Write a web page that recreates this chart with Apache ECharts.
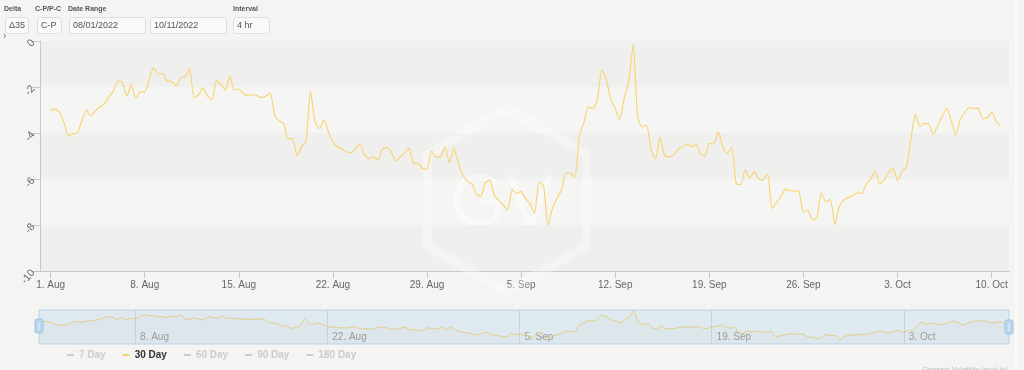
<!DOCTYPE html>
<html><head><meta charset="utf-8">
<script src="https://cdn.jsdelivr.net/npm/echarts@6/dist/echarts.min.js"></script>
<style>html,body{margin:0;padding:0;background:#f4f4f2;}#c{width:1024px;height:370px;}</style>
</head><body><div id="c"></div>
<script>
// ---- data (30 Day, C-P, delta 35), one value every 8 hours from 1 Aug 2022 00:00 UTC
const startDate = '2022-08-01T00:00:00Z';
const stepHours = 8;
const augVals = [-3.03,-2.95,-3.12,-3.56,-4.13,-4.02,-3.99,-3.44,-3.01,-3.27,-3.03,-2.86,-2.72,-2.43,-2.17,-1.73,-1.79,-2.40,-1.92,-2.50,
 -2.21,-2.21,-1.67,-1.15,-1.44,-1.41,-1.76,-1.75,-1.96,-1.59,-1.56,-1.20,-2.46,-2.35,-2.04,-2.40,-2.54,-1.73,-1.89,-2.14,
 -1.53,-2.14,-2.09,-2.28,-2.37,-2.34,-2.37,-2.46,-2.40,-2.25,-3.22,-3.47,-3.59,-4.25,-4.24,-5.00,-4.60,-4.34,-2.20,-3.50,
 -3.80,-3.44,-3.95,-4.38,-4.60,-4.70,-4.82,-4.86,-4.71,-4.48,-4.93,-5.12,-5.03,-5.18,-4.71,-4.63,-4.82,-5.21,-5.06,-4.86,
 -4.67,-5.32,-5.32,-5.54,-5.57,-4.77,-5.06,-5.03,-4.60,-5.29,-4.67,-5.32,-5.84];
const sepVals = [-6.09,-6.22,-6.64,-6.77,-6.16,-6.05,-6.70,-6.92,-7.13,-7.35,-6.45,-6.63,-6.55,-6.84,-7.09,-7.49,-6.12,-6.30,-8.00,-7.28,
 -6.84,-6.48,-5.73,-5.76,-5.92,-4.09,-3.56,-2.86,-2.93,-2.57,-1.24,-1.67,-2.54,-2.93,-3.41,-2.50,-1.79,-0.14,-3.30,-3.73,
 -3.66,-4.74,-5.11,-4.19,-4.98,-5.03,-4.96,-4.70,-4.60,-4.48,-4.60,-4.48,-4.89,-5.03,-4.45,-4.48,-3.95,-4.60,-4.89,-4.63,
 -6.19,-6.24,-5.61,-5.95,-5.68,-5.99,-6.05,-5.76,-7.28,-7.02,-6.77,-6.44,-6.51,-6.52,-6.55,-7.44,-7.35,-7.79,-7.67,-6.60,
 -6.99,-6.89,-7.97,-7.21,-6.92,-6.80,-6.73,-6.60,-6.63,-6.22];
const octVals = [-6.02,-5.64,-6.22,-6.05,-5.70,-5.54,-6.08,-5.66,-5.47,-4.24,-3.18,-3.73,-3.58,-3.61,-4.06,-3.66,-3.27,-2.93,-3.47,-4.09,
 -3.41,-3.11,-2.90,-2.93,-2.93,-3.37,-3.34,-3.09,-3.50,-3.70];
const xTickDates = ['2022-08-01','2022-08-08','2022-08-15','2022-08-22','2022-08-29','2022-09-05','2022-09-12','2022-09-19','2022-09-26','2022-10-03','2022-10-10'];
const navTickDates = ['2022-08-08','2022-08-22','2022-09-05','2022-09-19','2022-10-03'];
const legendNames = ['7 Day','30 Day','60 Day','90 Day','180 Day'];
const shownSeries = '30 Day';
const axisStart = '2022-07-31T05:00:00Z';
const axisEnd = '2022-10-11T07:00:00Z';
const controlLabels = ['Delta','C-P/P-C','Date Range','Interval'];
const controlValues = ['\u039435','C-P','08/01/2022','10/11/2022','4 hr'];
const yMin = -10, yMax = 0, yStep = 2;

// ---- build
const MONTHS = ['Jan','Feb','Mar','Apr','May','Jun','Jul','Aug','Sep','Oct','Nov','Dec'];
const t0 = Date.parse(startDate);
const values = augVals.concat(sepVals, octVals);
const data = values.map((v, i) => [t0 + i * stepHours * 3600000, v]);
const xTicks = xTickDates.map(d => Date.parse(d));
const navTicks = navTickDates.map(d => Date.parse(d));
function fmtDate(v) { const d = new Date(v); return d.getUTCDate() + '. ' + MONTHS[d.getUTCMonth()]; }
const FONT = '"Liberation Sans", Arial, Helvetica, sans-serif';
const LINE = '#f8d36c';

const chart = echarts.init(document.getElementById('c'), null, {renderer: 'canvas'});

// hexagon watermark
const hx = 507, hy = 200, hr = 92;
const hexPts = [];
for (let i = 0; i < 6; i++) { const a = Math.PI / 180 * (90 + 60 * i); hexPts.push([hx + hr * Math.cos(a), hy - hr * Math.sin(a)]); }

const ctrlLabelX = [4, 35, 68, 233];
const boxes = [[5, 23], [37, 24], [69, 76], [150, 76], [233, 36]];
const graphics = [
  {type: 'polygon', z: 1, silent: true, shape: {points: hexPts}, style: {fill: 'none', stroke: 'rgba(255,255,255,0.32)', lineWidth: 9}},
  {type: 'text', z: 1, silent: true, x: 502, y: 205, style: {text: 'GV', font: '72px ' + FONT, fill: 'rgba(255,255,255,0.4)', align: 'center', verticalAlign: 'middle'}},
  {type: 'text', x: 3, y: 36, style: {text: '\u203A', font: '10px ' + FONT, fill: '#777', verticalAlign: 'middle'}},
  {type: 'text', x: 1008, y: 366, style: {text: 'Genesis Volatility (gvol.io)', font: '7.5px ' + FONT, fill: '#bbb', align: 'right', verticalAlign: 'top'}},
  {type: 'rect', shape: {x: 1015, y: 0, width: 2, height: 370}, style: {fill: '#fbfbfa'}},
  {type: 'rect', z: 10, shape: {x: 35, y: 319, width: 8, height: 14, r: 2}, style: {fill: '#bad6ee', stroke: '#9fc4e6', lineWidth: 1}},
  {type: 'line', z: 11, shape: {x1: 39, y1: 322, x2: 39, y2: 330}, style: {stroke: '#e8f1f9', lineWidth: 1}},
  {type: 'rect', z: 10, shape: {x: 1005, y: 320, width: 8, height: 14, r: 2}, style: {fill: '#bad6ee', stroke: '#9fc4e6', lineWidth: 1}},
  {type: 'line', z: 11, shape: {x1: 1009, y1: 323, x2: 1009, y2: 331}, style: {stroke: '#e8f1f9', lineWidth: 1}}
];
controlLabels.forEach((t, i) => graphics.push({type: 'text', x: ctrlLabelX[i], y: 9.5, style: {text: t, font: 'bold 7px ' + FONT, fill: '#555', verticalAlign: 'middle'}}));
controlValues.forEach((t, i) => {
  const b = boxes[i];
  graphics.push({type: 'rect', shape: {x: b[0] + 0.5, y: 17.5, width: b[1], height: 16, r: 3}, style: {fill: '#f9f9f8', stroke: '#dedede', lineWidth: 1}});
  graphics.push({type: 'text', x: b[0] + 4, y: 25.5, style: {text: t, font: '9px ' + FONT, fill: '#555', verticalAlign: 'middle'}});
});

const selected = {};
legendNames.forEach(n => selected[n] = (n === shownSeries));
const series = legendNames.map(n => n === shownSeries ? {
  name: n, type: 'line', xAxisIndex: 0, yAxisIndex: 0, data: data, showSymbol: false, symbol: 'none',
  smooth: 0.2, lineStyle: {color: LINE, width: 1.1}, itemStyle: {color: LINE}, z: 3
} : {name: n, type: 'line', data: [], itemStyle: {color: '#cccccc'}});
series.push({
  name: 'navigator', type: 'line', xAxisIndex: 1, yAxisIndex: 1, data: data, showSymbol: false, symbol: 'none',
  smooth: 0.2, silent: true, lineStyle: {color: '#e5cd80', width: 1}, areaStyle: {origin: 'start', color: 'rgba(180,180,160,0.07)'}
});

chart.setOption({
  backgroundColor: '#f4f4f2',
  animation: false,
  textStyle: {fontFamily: FONT},
  grid: [
    {left: 40, right: 15, top: 41, height: 230, containLabel: false, outerBoundsMode: 'none'},
    {left: 39, right: 15, top: 310, height: 34, show: true, backgroundColor: '#dfe9f0', borderColor: '#b8d5ec', borderWidth: 1, containLabel: false, outerBoundsMode: 'none'}
  ],
  xAxis: [
    {type: 'value', gridIndex: 0, min: Date.parse(axisStart), max: Date.parse(axisEnd),
     axisLine: {show: true, onZero: false, lineStyle: {color: '#c8c8c8'}},
     axisTick: {show: true, length: 7, lineStyle: {color: '#c8c8c8'}, customValues: xTicks},
     axisLabel: {customValues: xTicks, formatter: fmtDate, color: '#666', fontSize: 10, margin: 9, fontFamily: FONT},
     splitLine: {show: false}},
    {type: 'value', gridIndex: 1, min: data[0][0], max: data[data.length - 1][0],
     axisLine: {show: false, onZero: false}, axisTick: {show: false, customValues: navTicks},
     axisLabel: {customValues: navTicks, formatter: v => '\u2002' + fmtDate(v), inside: true, color: '#9a9a9a', fontSize: 10, align: 'left', margin: 2, fontFamily: FONT},
     splitLine: {show: true, lineStyle: {color: '#c5d3dc', width: 1}}}
  ],
  yAxis: [
    {type: 'value', gridIndex: 0, min: yMin, max: yMax, interval: yStep,
     axisLine: {show: true, lineStyle: {color: '#c8c8c8'}},
     axisTick: {show: true, length: 8, lineStyle: {color: '#c8c8c8'}},
     axisLabel: {rotate: 50, color: '#666', fontSize: 10.5, margin: 7, fontFamily: FONT},
     splitLine: {show: false},
     splitArea: {show: true, areaStyle: {color: ['#efefed', '#f5f5f3']}}},
    {type: 'value', gridIndex: 1, min: -9.3, max: 0.15, show: false}
  ],
  legend: {
    data: legendNames, left: 67, top: 350, padding: 0, itemGap: 17, itemWidth: 7, itemHeight: 2, icon: 'rect',
    selected: selected, inactiveColor: '#cccccc',
    textStyle: {color: '#333', fontSize: 10, fontWeight: 'bold', fontFamily: FONT}
  },
  series: series,
  graphic: {elements: graphics}
});
</script></body></html>
